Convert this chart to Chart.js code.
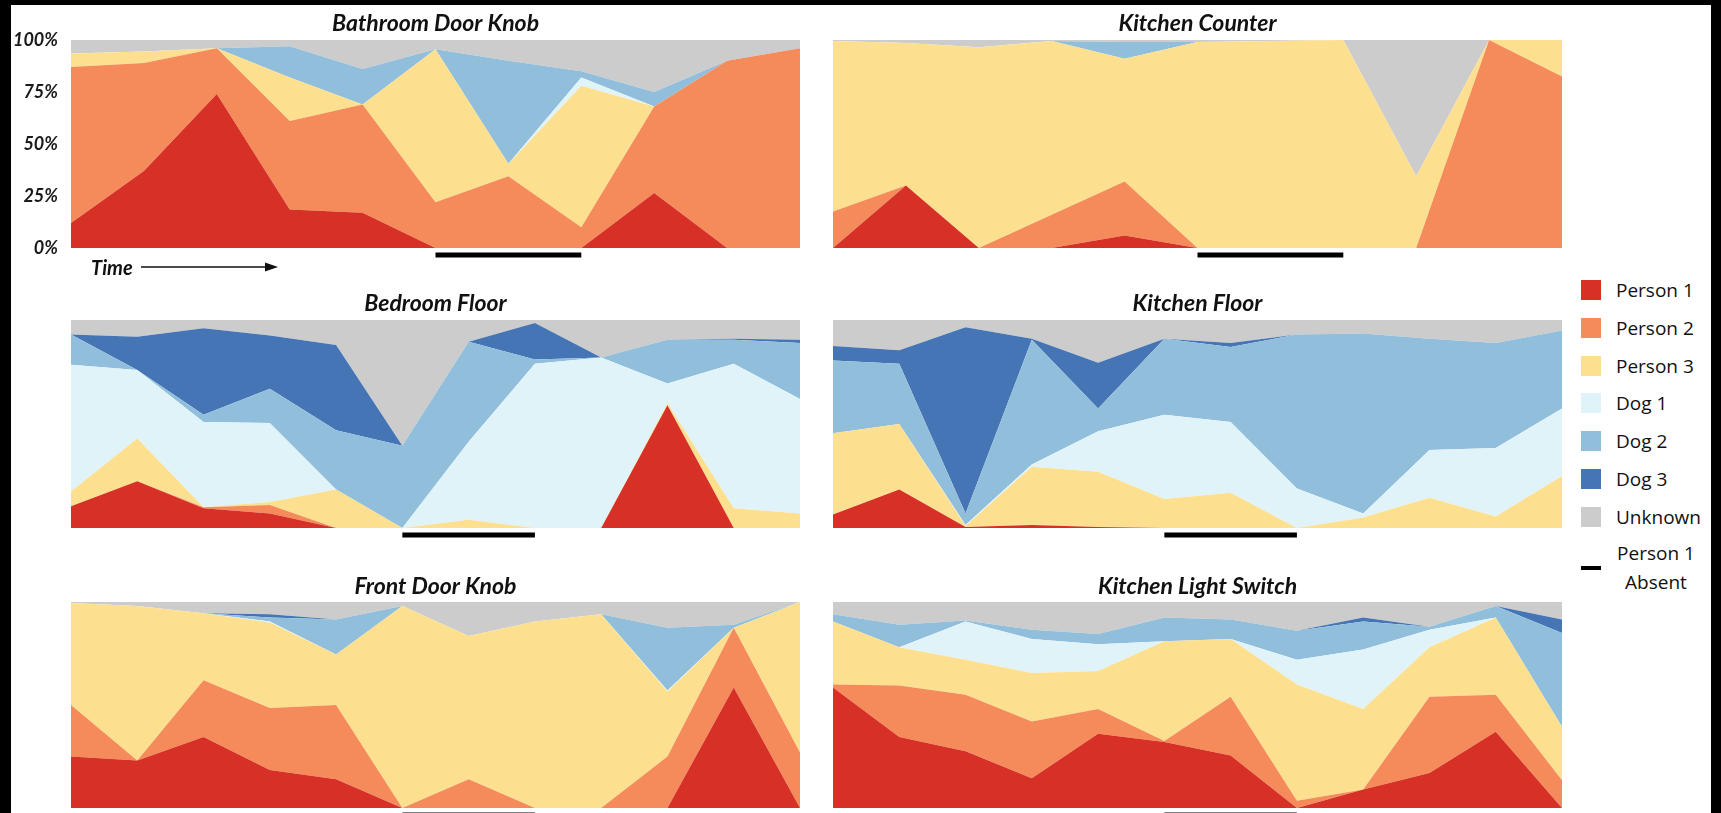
<!DOCTYPE html>
<html>
<head>
<meta charset="utf-8">
<title>Surface contact shares over time</title>
<script src="https://cdn.jsdelivr.net/npm/chart.js@4"></script>
<style>
  html, body { margin: 0; padding: 0; }
  body { width: 1721px; height: 813px; background: #000; position: relative; overflow: hidden; font-family: 'Open Sans', sans-serif; }
  #sheet { position: absolute; left: 11px; top: 5px; width: 1700px; height: 808px; background: #fff; }
  canvas { position: absolute; }
  .key { position: absolute; left: 1581px; width: 20px; height: 20px; }
  .key-label { position: absolute; left: 1616px; font-size: 19px; line-height: 20px; color: #111; white-space: nowrap; }
  .absent-mark { position: absolute; left: 1581px; top: 566px; width: 20px; height: 4px; background: #000; }
  .absent-label { position: absolute; left: 1606px; top: 539px; width: 100px; text-align: center; font-size: 19px; line-height: 29px; color: #111; }
  #time { position: absolute; left: 91px; top: 254px; font-family: 'Lato', sans-serif; font-weight: bold; font-style: italic; font-size: 20px; line-height: 26px; color: #111; }
  #time-arrow { position: absolute; left: 138px; top: 260px; }
</style>
</head>
<body>
<div id="sheet"></div>

<canvas id="bathroom" width="816" height="290" style="left:0px; top:10px;"></canvas>
<canvas id="counter" width="760" height="290" style="left:816px; top:10px;"></canvas>
<canvas id="bedroom" width="816" height="280" style="left:0px; top:290px;"></canvas>
<canvas id="kfloor" width="760" height="280" style="left:816px; top:290px;"></canvas>
<canvas id="frontdoor" width="816" height="240" style="left:0px; top:573px;"></canvas>
<canvas id="lightswitch" width="760" height="240" style="left:816px; top:573px;"></canvas>

<div id="time">Time</div>
<svg id="time-arrow" width="145" height="14" viewBox="0 0 145 14">
  <line x1="3" y1="7" x2="130" y2="7" stroke="#111" stroke-width="1.6"/>
  <polygon points="127,2.5 140,7 127,11.5" fill="#111"/>
</svg>

<div id="legend"></div>

<script>
// Time steps (x categories)
const steps11 = ['1', '2', '3', '4', '5', '6', '7', '8', '9', '10', '11'];
const steps12 = ['1', '2', '3', '4', '5', '6', '7', '8', '9', '10', '11', '12'];

// Series, drawn bottom to top
const seriesNames = ['Person 1', 'Person 2', 'Person 3', 'Dog 1', 'Dog 2', 'Dog 3', 'Unknown'];
const seriesColors = ['#d73027', '#f58b5a', '#fde08f', '#e0f3f8', '#91bfdb', '#4575b4', '#cccccc'];

// Y ticks (share of contacts, %)
const yTicks = [0, 25, 50, 75, 100];

// Bathroom Door Knob (%)
const bathP1  = [12, 37, 74, 18.5, 17, 0, 0, 0, 26.5, 0, 0];
const bathP2  = [75, 52, 22, 42.5, 52, 22, 34.5, 10, 41.5, 90, 96];
const bathP3  = [6.5, 5.5, 0, 21, 0, 73.5, 6, 68, 0, 0, 0];
const bathD1  = [0, 0, 0, 0, 0, 0, 0, 4, 0, 0, 0];
const bathD2  = [0, 0, 0, 15, 17, 0, 49.5, 3, 7, 0, 0];
const bathD3  = [0, 0, 0, 0, 0, 0, 0, 0, 0, 0, 0];
const bathUnk = [6.5, 5.5, 4, 3, 14, 4.5, 10, 15, 25, 10, 4];
const bathAbsent = [5, 7];

// Kitchen Counter (%)
const counterP1  = [0, 30, 0, 0, 6, 0, 0, 0, 0, 0, 0];
const counterP2  = [17.5, 0, 0, 16, 26, 0, 0, 0, 0, 100, 82.5];
const counterP3  = [82, 68.5, 96.5, 83.5, 59, 99, 99.5, 100, 34.5, 0, 17.5];
const counterD1  = [0, 0, 0, 0, 0, 0, 0, 0, 0, 0, 0];
const counterD2  = [0, 0, 0, 0, 8, 0, 0, 0, 0, 0, 0];
const counterD3  = [0, 0, 0, 0, 0, 0, 0, 0, 0, 0, 0];
const counterUnk = [0.5, 1.5, 3.5, 0.5, 1, 1, 0.5, 0, 65.5, 0, 0];
const counterAbsent = [5, 7];

// Bedroom Floor (%)
const bedP1  = [10.5, 22.5, 9.5, 7, 0, 0, 0, 0, 0, 59, 0, 0];
const bedP2  = [0, 0, 0.5, 4, 0, 0, 0, 0, 0, 0, 0, 0];
const bedP3  = [7, 20.5, 0, 1.5, 18.5, 0, 4, 0, 0, 1, 9.5, 7];
const bedD1  = [61, 33, 41, 38, 0, 0, 37.5, 79, 82, 9.5, 69.5, 55];
const bedD2  = [14.5, 0, 3.5, 16.5, 28.5, 39.5, 48, 2, 0, 21, 11.5, 27];
const bedD3  = [0, 16, 41.5, 25.5, 41, 0, 0, 17.5, 0, 0, 0.5, 1.5];
const bedUnk = [7, 8, 4, 7.5, 12, 60.5, 10.5, 1.5, 18, 9.5, 9, 9.5];
const bedAbsent = [5, 7];

// Kitchen Floor (%)
const kfloorP1  = [6.5, 18.5, 0.5, 1.5, 0.5, 0, 0, 0, 0, 0, 0, 0];
const kfloorP2  = [0, 0, 0, 0, 0, 0, 0, 0, 0, 0, 0, 0];
const kfloorP3  = [39, 31.5, 0.5, 28, 26.5, 14, 17, 0, 5, 14.5, 5.5, 25];
const kfloorD1  = [0, 0, 0.5, 1, 19.5, 40.5, 34, 19, 2, 23, 33, 32.5];
const kfloorD2  = [35, 29, 5.5, 60, 11, 36.5, 36, 74, 86.5, 53.5, 50.5, 37.5];
const kfloorD3  = [7, 6.5, 89.5, 0.5, 22, 0, 2, 0, 0, 0, 0, 0];
const kfloorUnk = [12.5, 14.5, 3.5, 9, 20.5, 9, 11, 7, 6.5, 9, 11, 5];
const kfloorAbsent = [5, 7];

// Front Door Knob (%)
const frontP1  = [25, 23, 34.5, 18.5, 14, 0, 0, 0, 0, 0, 58.5, 0];
const frontP2  = [25, 0, 27.5, 30, 36, 0, 14, 0, 0, 25, 29, 27];
const frontP3  = [49.5, 75, 32.5, 41.5, 24.5, 98, 69.5, 90.5, 94, 31.5, 0, 73];
const frontD1  = [0, 0, 0, 0.5, 0, 0, 0, 0, 0, 0.5, 0, 0];
const frontD2  = [0, 0, 0, 2, 17, 0, 0, 0, 0, 30.5, 1.5, 0];
const frontD3  = [0, 0, 0, 1.5, 0, 0, 0, 0, 0, 0, 0, 0];
const frontUnk = [0.5, 2, 5.5, 6, 8.5, 2, 16.5, 9.5, 6, 12.5, 11, 0];
const frontAbsent = [5, 7];

// Kitchen Light Switch (%)
const switchP1  = [58.5, 34.5, 27.5, 14.5, 36, 32, 25.5, 0, 9, 17, 37, 0];
const switchP2  = [1.5, 25, 27.5, 27.5, 12, 0.5, 28.5, 3.5, 0, 37, 18, 13.5];
const switchP3  = [30.5, 18.5, 17, 23.5, 18.5, 48.5, 28, 56.5, 39, 24, 37.5, 26];
const switchD1  = [0, 0, 18.5, 16.5, 13, 0, 0, 12, 29, 8.5, 0, 0];
const switchD2  = [3.5, 11, 0.5, 4.5, 5, 11.5, 9.5, 14, 13.5, 1.5, 5.5, 45.5];
const switchD3  = [0, 0, 0, 0, 0, 0, 0, 0, 2, 0, 0, 6.5];
const switchUnk = [6, 11, 9, 13.5, 15.5, 7.5, 8.5, 14, 7.5, 12, 2, 8.5];
const switchAbsent = [5, 7];

// Horizontal bar under the plot marking when Person 1 was away
const absentBarPlugin = {
  id: 'absentBar',
  afterDatasetsDraw(chart, args, opts) {
    const xs = chart.scales.x;
    const x1 = xs.getPixelForValue(opts.span[0]);
    const x2 = xs.getPixelForValue(opts.span[1]);
    const ctx = chart.ctx;
    ctx.save();
    ctx.fillStyle = opts.color;
    ctx.fillRect(x1, chart.chartArea.bottom + opts.offset, x2 - x1, opts.thickness);
    ctx.restore();
  }
};

function stackedArea(canvasId, title, labels, series, absent, layout) {
  const datasets = series.map((values, i) => ({
    label: seriesNames[i],
    data: values,
    backgroundColor: seriesColors[i],
    borderColor: seriesColors[i],
    borderWidth: 0,
    pointRadius: 0,
    tension: 0,
    fill: i === 0 ? 'origin' : '-1'
  }));

  const yScale = {
    stacked: true,
    min: 0,
    max: 100,
    display: layout.showY,
    grid: { display: false, drawTicks: false },
    border: { display: false },
    ticks: {
      stepSize: 25,
      padding: 13,
      color: '#1a1a1a',
      font: { family: 'Lato', size: 18, weight: 'bold', style: 'italic' },
      callback: v => yTicks.includes(v) ? v + '%' : ''
    }
  };
  if (layout.showY) {
    yScale.afterFit = scale => { scale.width = layout.axisWidth; };
  }

  return new Chart(document.getElementById(canvasId), {
    type: 'line',
    data: { labels, datasets },
    plugins: [absentBarPlugin],
    options: {
      responsive: false,
      animation: false,
      events: [],
      layout: { padding: { left: layout.padLeft, right: layout.padRight, top: 0, bottom: layout.padBottom } },
      scales: {
        x: { display: false, offset: false },
        y: yScale
      },
      plugins: {
        legend: { display: false },
        tooltip: { enabled: false },
        title: {
          display: true,
          text: title,
          fullSize: false,
          color: '#111',
          font: { family: 'Lato', size: 23, weight: 'bold', style: 'italic', lineHeight: 1.2 },
          padding: { top: 0, bottom: layout.titleGap }
        },
        absentBar: { span: absent, color: '#000', offset: 4.5, thickness: 5 }
      }
    }
  });
}

stackedArea('bathroom', 'Bathroom Door Knob', steps11,
  [bathP1, bathP2, bathP3, bathD1, bathD2, bathD3, bathUnk], bathAbsent,
  { showY: true, axisWidth: 71, padLeft: 0, padRight: 16, padBottom: 52, titleGap: 2.4 });

stackedArea('counter', 'Kitchen Counter', steps11,
  [counterP1, counterP2, counterP3, counterD1, counterD2, counterD3, counterUnk], counterAbsent,
  { showY: false, padLeft: 17, padRight: 14, padBottom: 52, titleGap: 2.4 });

stackedArea('bedroom', 'Bedroom Floor', steps12,
  [bedP1, bedP2, bedP3, bedD1, bedD2, bedD3, bedUnk], bedAbsent,
  { showY: false, padLeft: 71, padRight: 16, padBottom: 42, titleGap: 2.4 });

stackedArea('kfloor', 'Kitchen Floor', steps12,
  [kfloorP1, kfloorP2, kfloorP3, kfloorD1, kfloorD2, kfloorD3, kfloorUnk], kfloorAbsent,
  { showY: false, padLeft: 17, padRight: 14, padBottom: 42, titleGap: 2.4 });

stackedArea('frontdoor', 'Front Door Knob', steps12,
  [frontP1, frontP2, frontP3, frontD1, frontD2, frontD3, frontUnk], frontAbsent,
  { showY: false, padLeft: 71, padRight: 16, padBottom: 5, titleGap: 1.4 });

stackedArea('lightswitch', 'Kitchen Light Switch', steps12,
  [switchP1, switchP2, switchP3, switchD1, switchD2, switchD3, switchUnk], switchAbsent,
  { showY: false, padLeft: 17, padRight: 14, padBottom: 5, titleGap: 1.4 });

// Shared legend on the right
const legend = document.getElementById('legend');
seriesNames.forEach((name, i) => {
  const top = 280 + i * 37.8;
  const sw = document.createElement('div');
  sw.className = 'key';
  sw.style.top = top + 'px';
  sw.style.background = seriesColors[i];
  legend.appendChild(sw);
  const lab = document.createElement('div');
  lab.className = 'key-label';
  lab.style.top = top + 'px';
  lab.textContent = name;
  legend.appendChild(lab);
});
const mark = document.createElement('div');
mark.className = 'absent-mark';
legend.appendChild(mark);
const absentLabel = document.createElement('div');
absentLabel.className = 'absent-label';
absentLabel.innerHTML = 'Person 1<br>Absent';
legend.appendChild(absentLabel);
</script>
</body>
</html>
